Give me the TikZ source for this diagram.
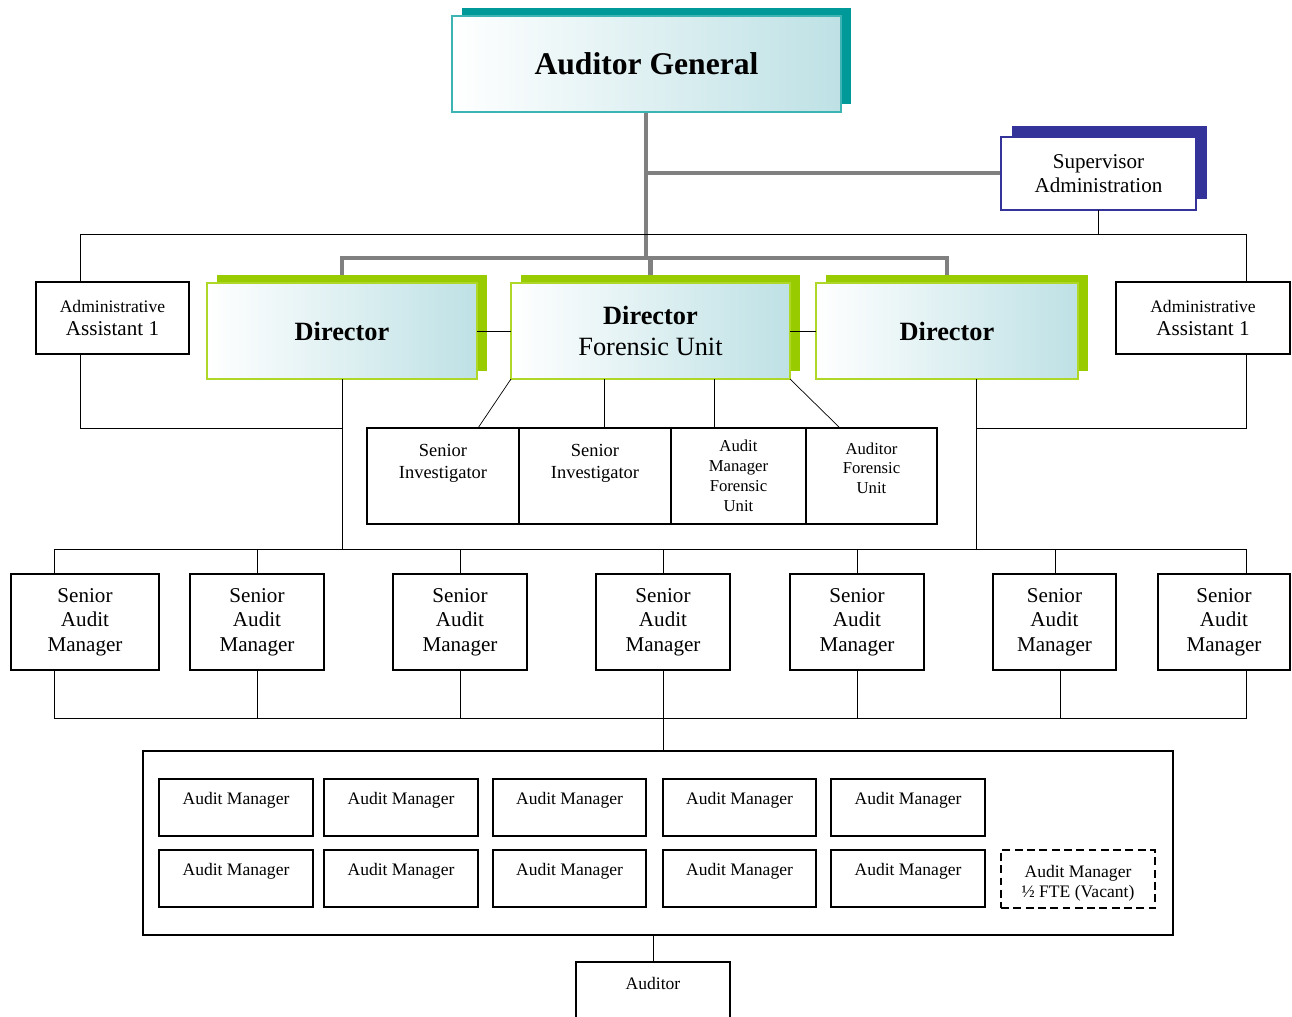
\documentclass[tikz,border=0pt]{standalone}
\usepackage{fontspec}
\setmainfont{Liberation Serif}
\usepackage{tikz}
\usetikzlibrary{shadows,backgrounds}

\definecolor{tealshadow}{RGB}{0,153,153}
\definecolor{tealline}{RGB}{60,180,180}
\definecolor{navy}{RGB}{51,51,153}
\definecolor{lime}{RGB}{153,204,0}
\definecolor{limeline}{RGB}{175,215,40}
\definecolor{paleblue}{RGB}{190,225,229}
\definecolor{linegray}{RGB}{128,128,128}

\begin{document}
\begin{tikzpicture}[x=0.02cm,y=-0.02cm,line width=1.1pt,
  wh/.style 2 args={minimum width=#1*0.02cm,minimum height=#2*0.02cm},
  plain node/.style={draw,inner sep=0pt,outer sep=0pt,align=center},
  glow/.style={left color=white,right color=paleblue},
  head node/.style={plain node,glow,draw=tealline,
    general shadow={fill=tealshadow,shadow xshift=0.2cm,shadow yshift=0.16cm},
    font=\fontsize{18}{22}\selectfont\bfseries},
  sup node/.style={plain node,fill=white,draw=navy,
    general shadow={fill=navy,shadow xshift=0.22cm,shadow yshift=0.22cm},
    font=\fontsize{12}{14}\selectfont},
  dir node/.style={plain node,glow,draw=limeline,
    general shadow={fill=lime,shadow xshift=0.2cm,shadow yshift=0.16cm},
    font=\fontsize{15}{17.6}\selectfont},
  inv node/.style={plain node,wh={#1}{96},font=\fontsize{10.5}{12.5}\selectfont},
  sam node/.style={plain node,font=\fontsize{12}{14}\selectfont},
  am node/.style={plain node,font=\fontsize{10}{12}\selectfont,text depth=10pt},
  gray line/.style={draw=linegray,line width=2.8pt}]
  \path[use as bounding box,clip] (0,0) rectangle (1292,1017);

  % top of the chart
  \node[head node,wh={389}{96}] (ag) at (646.5,64) {Auditor General};
  \node[sup node,wh={195}{73}] (sup) at (1098.5,173.5) {Supervisor\\Administration};
  \node[plain node,wh={153}{72},font=\fontsize{12}{13.6}\selectfont] (aa1) at (112.5,318)
    {{\fontsize{10}{12}\selectfont Administrative}\\Assistant 1};
  \node[plain node,wh={174}{72},font=\fontsize{12}{13.6}\selectfont] (aa2) at (1203,318)
    {{\fontsize{10}{12}\selectfont Administrative}\\Assistant 1};

  % directors
  \node[dir node,wh={270}{96}] (d1) at (342,331) {\bfseries Director};
  \node[dir node,wh={279}{96}] (d2) at (650.5,331) {\bfseries Director\\Forensic Unit};
  \node[dir node,wh={262}{96}] (d3) at (947,331) {\bfseries Director};

  % forensic unit
  \node[inv node=152,text depth=17pt] (si1) at (443,476) {Senior\\Investigator};
  \node[inv node=152,text depth=17pt] (si2) at (595,476) {Senior\\Investigator};
  \node[inv node=135,font=\fontsize{9.5}{11.3}\selectfont] (amf) at (738.5,476) {Audit\\Manager\\Forensic\\Unit};
  \node[inv node=131,font=\fontsize{9.5}{11.3}\selectfont,text depth=9pt] (afu) at (871.5,476) {Auditor\\Forensic\\Unit};

  % senior audit managers
  \foreach \n/\x/\w in {s1/85/148,s2/257/134,s3/460/134,s4/663/134,s5/857/134,s6/1054.5/123,s7/1224/132}
    \node[sam node,wh={\w}{96}] (\n) at (\x,622) {Senior\\Audit\\Manager};

  % audit managers
  \node[plain node,wh={1030}{184}] (grp) at (658,843) {};
  \foreach \i/\x/\w in {1/236/154,2/401/154,3/569.5/153,4/739.5/153,5/908/154} {
    \node[am node,wh={\w}{57}] (am\i) at (\x,807.5) {Audit Manager};
    \node[am node,wh={\w}{57}] (an\i) at (\x,878.5) {Audit Manager};
  }
  \node[plain node,dashed,dash pattern=on 4.5pt off 2.5pt,wh={154}{58},font=\fontsize{10}{11.3}\selectfont] (vac) at (1078,879)
    {\rule{0pt}{12pt}Audit Manager\\½ FTE (Vacant)};
  \node[plain node,wh={154}{80},anchor=north,font=\fontsize{10}{12}\selectfont,text depth=21pt] (aud) at (653,962) {Auditor};

  % gray lines under the boxes
  \begin{pgfonlayer}{background}
    \coordinate (g0) at (646,173);
    \coordinate (g1) at (646,258);
    \draw[gray line] (ag.south -| g1) -- (g1);
    \draw[gray line] (g0) -- (g0 -| sup.west);
    \draw[gray line] (d1.north) |- (g1) -| (d3.north);
    \draw[gray line] (d2.north) -- (d2.north |- g1);
  \end{pgfonlayer}

  % black lines
  \coordinate (tl) at (80,234);
  \coordinate (tr) at (1246,234);
  \coordinate (ml) at (80,428);
  \coordinate (mr) at (1246,428);
  \coordinate (d3b) at (976,379);
  \coordinate (bl) at (54,549);
  \coordinate (br) at (1246,549);
  \coordinate (bbl) at (54,718);
  \coordinate (bbr) at (1246,718);
  \draw (sup.south) -- (sup.south |- tl);
  \draw (aa1.north -| tl) -- (tl) -- (tr) -- (aa2.north -| tr);
  \draw (aa1.south -| ml) |- (d1.south |- ml);
  \draw (aa2.south -| mr) |- (d3b |- mr);
  \draw (d1.east) -- (d2.west);
  \draw (d2.east) -- (d3.west);
  \draw (d2.south west) -- (si1.north -| 478,0);
  \draw (d2.south -| 604,0) -- (si2.north -| 604,0);
  \draw (d2.south -| 714,0) -- (amf.north -| 714,0);
  \draw (d2.south east) -- (afu.north -| 840,0);
  \draw (d1.south) -- (d1.south |- bl);
  \draw (d3b) -- (d3b |- bl);
  \draw (s1.north -| bl) -- (bl) -- (br) -- (s7.north -| br);
  \foreach \n/\x in {s2/257,s3/460,s4/663,s5/857,s6/1055}
    \draw (\n.north -| \x,0) -- (bl -| \x,0);
  \draw (s1.south -| bbl) -- (bbl) -- (bbr) -- (s7.south -| bbr);
  \foreach \n/\x in {s2/257,s3/460,s4/663,s5/857,s6/1060}
    \draw (\n.south -| \x,0) -- (bbl -| \x,0);
  \draw (bbl -| s4.south) -- (grp.north -| s4.south);
  \draw (grp.south -| aud.north) -- (aud.north);
\end{tikzpicture}
\end{document}
